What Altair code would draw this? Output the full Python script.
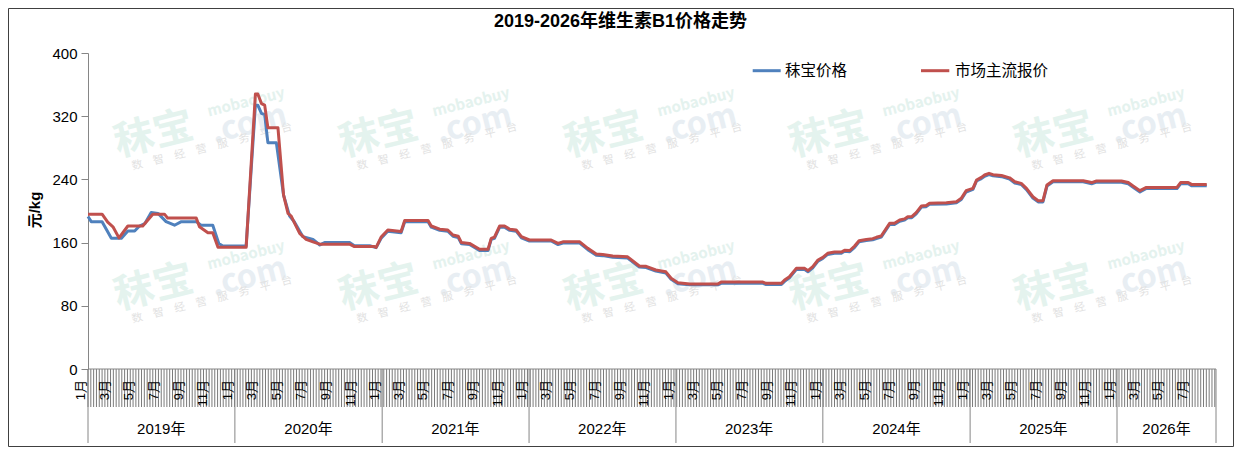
import altair as alt
import pandas as pd

# ---------------- data ----------------
title_text = "2019-2026年维生素B1价格走势"
y_title = "元/kg"
series_names = ["秣宝价格", "市场主流报价"]
y_ticks = [0, 80, 160, 240, 320, 400]
years = ["2019年", "2020年", "2021年", "2022年", "2023年", "2024年", "2025年", "2026年"]
year_starts = ["2019-01-01", "2020-01-01", "2021-01-01", "2022-01-01", "2023-01-01",
               "2024-01-01", "2025-01-01", "2026-01-01"]
axis_end = "2026-09-04"
last_month_label = "2026-07-01"

red_dates = [
    "2019-01-01", "2019-02-05", "2019-02-19", "2019-03-04", "2019-03-19", "2019-04-10", "2019-05-17",
    "2019-06-11", "2019-07-10", "2019-07-18", "2019-09-27", "2019-10-05", "2019-10-26", "2019-11-07",
    "2019-11-20", "2020-01-29", "2020-02-21", "2020-02-27", "2020-03-07", "2020-03-15", "2020-03-23",
    "2020-04-17", "2020-05-01", "2020-05-12", "2020-05-20", "2020-05-28", "2020-06-10", "2020-06-26",
    "2020-07-13", "2020-07-30", "2020-10-12", "2020-10-24", "2020-12-13", "2020-12-17",
    "2020-12-30", "2021-01-15", "2021-02-17", "2021-02-26", "2021-04-25", "2021-05-03", "2021-05-24",
    "2021-06-13", "2021-06-26", "2021-07-09", "2021-07-17", "2021-08-06", "2021-08-31", "2021-09-21",
    "2021-09-29", "2021-10-07", "2021-10-20", "2021-11-01", "2021-11-14", "2021-11-30", "2021-12-13",
    "2022-01-02", "2022-02-25", "2022-03-14", "2022-03-26", "2022-05-07", "2022-05-27", "2022-06-17",
    "2022-07-03", "2022-07-28", "2022-09-03", "2022-10-02", "2022-10-19", "2022-11-12", "2022-12-07",
    "2022-12-20", "2023-01-06", "2023-02-04", "2023-04-15", "2023-04-23", "2023-08-05", "2023-08-13",
    "2023-09-20", "2023-09-28", "2023-10-10", "2023-10-27", "2023-11-17", "2023-11-25", "2023-12-07",
    "2023-12-20", "2024-01-01", "2024-01-13", "2024-01-30", "2024-02-16", "2024-02-24", "2024-03-08",
    "2024-03-20", "2024-03-31", "2024-04-18", "2024-05-04", "2024-05-13", "2024-05-25", "2024-06-15",
    "2024-06-27", "2024-07-10", "2024-07-22", "2024-07-30", "2024-08-09", "2024-08-20", "2024-09-02",
    "2024-09-14", "2024-09-22", "2024-11-03", "2024-11-28", "2024-12-10", "2024-12-22", "2025-01-08",
    "2025-01-17", "2025-01-29", "2025-02-06", "2025-02-17", "2025-02-27", "2025-03-20", "2025-04-09",
    "2025-04-22", "2025-05-08", "2025-05-21", "2025-06-06", "2025-06-19", "2025-07-01", "2025-07-11",
    "2025-07-26", "2025-10-09", "2025-10-30", "2025-11-11", "2026-01-12", "2026-01-29", "2026-02-10",
    "2026-02-27", "2026-03-15", "2026-05-30", "2026-06-08", "2026-06-27", "2026-07-05", "2026-08-12",
]
red_vals = [
    196, 196, 186, 180, 166, 181, 181, 196, 196, 191, 191, 180, 172.5, 172.5, 154, 154, 348, 348, 336, 334,
    305.5, 305.5, 220, 197, 193.6, 185, 171.7, 164, 161, 158, 158, 155, 155, 154,
    167.5, 176, 174, 188, 188, 181, 177, 176, 169.6, 168, 160, 159, 151.5, 151.5, 165.4, 167, 181, 181,
    177, 176, 167.5, 163.3, 163.3, 159, 161, 161, 152.7, 145.6, 145, 143, 142, 130.4, 130, 125.3, 123,
    114.8, 109.3, 107.6, 107.6, 110, 110, 108.4, 108.4, 112.7, 116.8, 127.4, 127.4, 124.5, 129.5, 138,
    141.3, 146.4, 148, 148, 150.2, 150, 155.7, 162.4, 164, 165, 166.7, 168.4, 184.4, 184.4, 188.6, 190,
    192.8, 193, 198, 206.3, 207, 209.7, 210.5, 211.8, 216, 225.7, 228.7, 239.2, 242.6, 245.6, 247.7, 246,
    245, 242, 237, 235, 228.7, 218, 213, 213, 233, 238.4, 238.4, 236, 238, 238, 236, 231.6, 225.7, 229.9,
    229.9, 236, 236, 233.7, 233.7,
]

blue_early_dates = [
    "2019-01-01", "2019-01-09", "2019-02-05", "2019-02-28", "2019-03-25", "2019-04-10", "2019-04-27",
    "2019-05-09", "2019-05-22", "2019-06-07", "2019-06-24", "2019-07-14", "2019-08-04", "2019-08-21",
    "2019-09-27", "2019-10-09", "2019-11-07", "2019-11-22", "2019-12-02", "2020-01-29", "2020-02-21",
    "2020-02-27", "2020-03-07", "2020-03-15", "2020-03-23", "2020-04-13", "2020-05-01", "2020-05-16",
    "2020-05-28", "2020-06-18", "2020-07-13", "2020-07-30", "2020-08-11", "2020-10-12", "2020-10-24",
    "2020-12-01", "2020-12-17",
]
blue_early_vals = [
    193, 186.5, 186.5, 165.4, 165.4, 174.7, 174.7, 181, 184, 198, 197, 186.5, 182, 186.5, 186.5, 182, 182,
    159, 155.7, 155.7, 334, 334, 323.6, 322, 286.5, 286.5, 220, 193.6, 186, 167.5, 164, 157, 160, 160,
    156, 156, 153.6,
]
blue_late_vals = [
    166, 174.5, 172.5, 186.5, 186.5, 179.5, 175.5, 174.5, 168, 166.5,
    158.5, 157.5, 150, 150, 164, 165.5, 179.5, 179.5, 175.5, 174.5,
    166, 162, 162, 157.5, 159.5, 159.5, 151, 144, 143.5, 141.5,
    140.5, 129, 128.5, 124, 121.5, 113.5, 108, 106.5, 106.5, 108.5,
    108.5, 107, 107, 111, 115.5, 126, 126, 123, 128, 136.5,
    140, 145, 146.5, 146.5, 149, 148.5, 154, 161, 162.5, 163.5,
    165, 167, 183, 183, 187, 188.5, 191.5, 191.5, 196.5, 205,
    205.5, 208.5, 209, 210.5, 214.5, 224, 227.5, 238, 241, 244,
    246, 244.5, 243.5, 240.5, 235.5, 233.5, 227, 216.5, 211.5, 211.5,
    231.5, 237, 237, 234.5, 236.5, 236.5, 234.5, 230, 224, 228.5,
    228.5, 234.5, 234.5, 232, 232,
]
blue_dates = blue_early_dates + red_dates[34:]
blue_vals = blue_early_vals + blue_late_vals

# ---------------- layout / style ----------------
FONT = "Liberation Sans, Arial, Noto Sans CJK SC"
W, H = 1128, 316
BLUE, RED = "#4f81bd", "#c0504d"
GRAY = "#868686"

x_start = alt.DateTime(year=2019, month=1, date=1, utc=True)
x_end = alt.DateTime(year=2026, month=9, date=4, utc=True)
xscale = alt.Scale(domain=[x_start, x_end])
yscale = alt.Scale(domain=[0, 400])

one = pd.DataFrame({"k": [0]})

df_blue = pd.DataFrame({"date": blue_dates, "value": blue_vals})
df_red = pd.DataFrame({"date": red_dates, "value": red_vals})

week_dates = [d.strftime("%Y-%m-%d") for d in pd.date_range("2019-01-01", axis_end, freq="7D")]
df_weeks = pd.DataFrame({"date": week_dates})

m_dates, m_text = [], []
for y in range(2019, 2027):
    for m in (1, 3, 5, 7, 9, 11):
        d = f"{y}-{m:02d}-01"
        if d <= last_month_label:
            m_dates.append(d)
            m_text.append(f"{m}月")
df_months = pd.DataFrame({"date": m_dates, "label": m_text})

bounds = year_starts + [axis_end]
df_ybounds = pd.DataFrame({"date": bounds})
mids = []
for a, b in zip(bounds[:-1], bounds[1:]):
    ta, tb = pd.Timestamp(a), pd.Timestamp(b)
    mids.append((ta + (tb - ta) / 2).strftime("%Y-%m-%d"))
df_years = pd.DataFrame({"date": mids, "label": years})

# watermark tiles (pixel positions, decoration only)
wm_x, wm_y = [], []
for ry in (82, 235):
    for cx in (66, 291, 516, 741, 966):
        wm_x.append(cx)
        wm_y.append(ry)
df_wm = pd.DataFrame({"wx": wm_x, "wy": wm_y})


def wm_layer(text, dx, dy, size, color, bold=True):
    return alt.Chart(df_wm).transform_calculate(
        px=f"datum.wx + {dx}", py=f"datum.wy + {dy}"
    ).mark_text(
        text=text, fontSize=size, fontWeight="bold" if bold else "normal", color=color,
        angle=346, font="Noto Sans CJK SC, Liberation Sans", align="center", baseline="middle"
    ).encode(
        x=alt.X("px:Q", scale=None, axis=None),
        y=alt.Y("py:Q", scale=None, axis=None),
    )


wm1 = wm_layer("秣宝", 0, 0, 40, "#e4f3ee")
wm2 = wm_layer(".com", 95, -11, 32, "#e8eef3")
wm3 = wm_layer("mobaobuy", 92, -33, 15, "#e4f2ee")
wm4 = wm_layer("\u3000".join("数智经营服务平台"), 58, 12, 11, "#e2e2e2", bold=False)

frame = alt.Chart(one).mark_rect(filled=False, stroke="#404040", strokeWidth=1).encode(
    x=alt.value(-79.5), x2=alt.value(1145.5), y=alt.value(-44.5), y2=alt.value(393.5)
)

week_ticks = alt.Chart(df_weeks).mark_rule(color="#7a7a7a", strokeWidth=1).encode(
    x=alt.X("date:T", scale=xscale, axis=None), y=alt.value(H), y2=alt.value(H + 38)
)
year_rules = alt.Chart(df_ybounds).mark_rule(color=GRAY, strokeWidth=1).encode(
    x=alt.X("date:T", scale=xscale, axis=None), y=alt.value(H), y2=alt.value(H + 74)
)
x_base = alt.Chart(one).mark_rule(color=GRAY, strokeWidth=1).encode(
    x=alt.value(0), x2=alt.value(W), y=alt.value(H)
)
month_labels = alt.Chart(df_months).mark_text(
    angle=270, align="right", baseline="middle", dy=-7, fontSize=13, font=FONT, color="#000"
).encode(
    x=alt.X("date:T", scale=xscale, axis=None), y=alt.value(H + 11), text="label:N"
)
year_labels = alt.Chart(df_years).mark_text(
    align="center", baseline="middle", fontSize=15, font=FONT, color="#000"
).encode(
    x=alt.X("date:T", scale=xscale, axis=None), y=alt.value(H + 60), text="label:N"
)

yaxis = alt.Axis(values=y_ticks, title=None, grid=False, domainColor=GRAY, tickColor=GRAY,
                 tickSize=7, labelPadding=4, labelFontSize=15, labelFont=FONT, labelColor="#000")

blue_line = alt.Chart(df_blue).mark_line(color=BLUE, strokeWidth=3, strokeJoin="round").encode(
    x=alt.X("date:T", scale=xscale, axis=None),
    y=alt.Y("value:Q", scale=yscale, axis=yaxis),
)
red_line = alt.Chart(df_red).mark_line(color=RED, strokeWidth=3, strokeJoin="round").encode(
    x=alt.X("date:T", scale=xscale, axis=None),
    y=alt.Y("value:Q", scale=yscale, axis=yaxis),
)

title = alt.Chart(one).mark_text(
    text=title_text, fontSize=18, fontWeight="bold", font=FONT, color="#000",
    align="center", baseline="middle"
).encode(x=alt.value(532.5), y=alt.value(-31))

ytitle = alt.Chart(one).mark_text(
    text=y_title, fontSize=15, fontWeight="bold", font=FONT, color="#000",
    angle=270, align="center", baseline="middle"
).encode(x=alt.value(-53), y=alt.value(157))

leg_blue_line = alt.Chart(one).mark_rule(color=BLUE, strokeWidth=3).encode(
    x=alt.value(664.7), x2=alt.value(692.7), y=alt.value(17.7))
leg_blue_text = alt.Chart(one).mark_text(
    text=series_names[0], fontSize=15.5, font=FONT, color="#000", align="left", baseline="middle"
).encode(x=alt.value(697), y=alt.value(18))
leg_red_line = alt.Chart(one).mark_rule(color=RED, strokeWidth=3).encode(
    x=alt.value(833), x2=alt.value(861.3), y=alt.value(17.7))
leg_red_text = alt.Chart(one).mark_text(
    text=series_names[1], fontSize=15.5, font=FONT, color="#000", align="left", baseline="middle"
).encode(x=alt.value(867), y=alt.value(18))

chart = alt.layer(
    wm1, wm2, wm3, wm4, frame, week_ticks, year_rules, x_base, month_labels, year_labels,
    blue_line, red_line, title, ytitle,
    leg_blue_line, leg_blue_text, leg_red_line, leg_red_text,
).properties(
    width=W, height=H,
    autosize=alt.AutoSizeParams(type="none"),
    padding={"left": 80, "top": 45, "right": 18, "bottom": 78},
    background="white",
).configure_view(stroke=None)

chart.save("out.html", embed_options={"renderer": "svg", "actions": False})
